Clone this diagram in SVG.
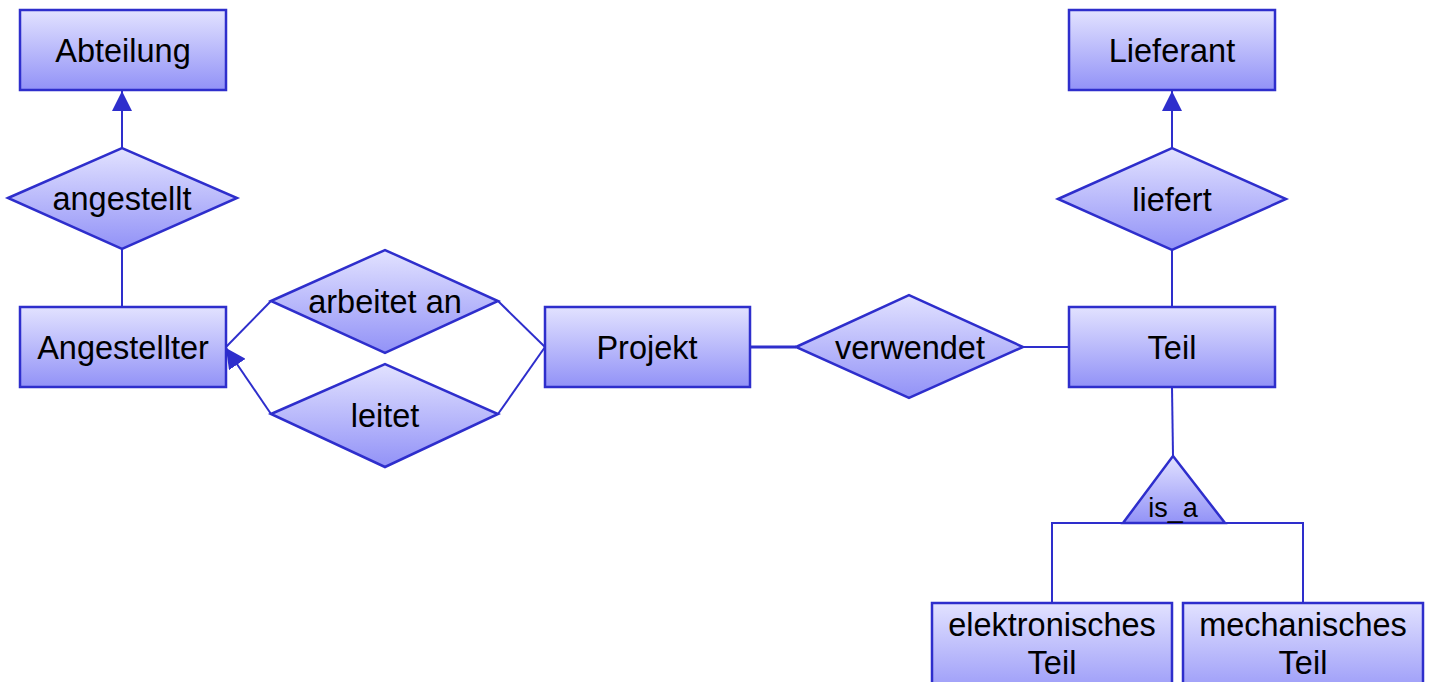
<svg xmlns="http://www.w3.org/2000/svg" width="1429" height="682" viewBox="0 0 1429 682">
<defs>
<linearGradient id="g" x1="0" y1="0" x2="0" y2="1">
<stop offset="0" stop-color="#e2e2ff"/>
<stop offset="1" stop-color="#9292f7"/>
</linearGradient>
<marker id="arr" viewBox="0 0 20 20" refX="20" refY="10" markerWidth="20" markerHeight="20" markerUnits="userSpaceOnUse" orient="auto">
<path d="M0,0 L20,10 L0,20 Z" fill="#2e2ecc"/>
</marker>
<style>
.n{fill:url(#g);stroke:#2e2ecc;stroke-width:2.5}
.t{font-family:"Liberation Sans",Arial,sans-serif;font-size:32.5px;fill:#000;text-anchor:middle}
.s{font-size:27px}
.c{fill:none;stroke:#2e2ecc;stroke-width:2}
</style>
</defs>
<rect width="1429" height="682" fill="#fff"/>
<g id="connectors">
<line class="c" x1="122" y1="148" x2="122" y2="91" marker-end="url(#arr)"/>
<line class="c" x1="122" y1="249" x2="122" y2="307"/>
<line class="c" x1="226" y1="347" x2="271" y2="301"/>
<line class="c" x1="498" y1="301" x2="545" y2="347"/>
<line class="c" x1="271" y1="414" x2="226" y2="348" marker-end="url(#arr)"/>
<line class="c" x1="498" y1="414" x2="545" y2="347"/>
<line class="c" x1="750" y1="347" x2="796" y2="347" style="stroke-width:3"/>
<line class="c" x1="1023" y1="347" x2="1069" y2="347"/>
<line class="c" x1="1172" y1="148" x2="1172" y2="91" marker-end="url(#arr)"/>
<line class="c" x1="1172" y1="250" x2="1172" y2="307"/>
<line class="c" x1="1172" y1="387" x2="1173" y2="456"/>
<polyline class="c" points="1123,523 1052,523 1052,603"/>
<polyline class="c" points="1225,523 1303,523 1303,603"/>
</g>
<g id="abteilung"><rect class="n" x="20" y="10" width="206" height="80"/><text class="t" x="123" y="62">Abteilung</text></g>
<g id="angestellt"><polygon class="n" points="8,198 122,148 237,198 122,249"/><text class="t" x="122" y="210">angestellt</text></g>
<g id="angestellter"><rect class="n" x="20" y="307" width="206" height="80"/><text class="t" x="123" y="359">Angestellter</text></g>
<g id="arbeitet_an"><polygon class="n" points="271,301 385,250 498,301 385,353"/><text class="t" x="385" y="313">arbeitet an</text></g>
<g id="leitet"><polygon class="n" points="271,414 385,364 498,414 385,467"/><text class="t" x="385" y="427">leitet</text></g>
<g id="projekt"><rect class="n" x="545" y="307" width="205" height="80"/><text class="t" x="647" y="359">Projekt</text></g>
<g id="verwendet"><polygon class="n" points="796,347 909,295 1023,347 909,398"/><text class="t" x="910" y="359">verwendet</text></g>
<g id="lieferant"><rect class="n" x="1069" y="10" width="206" height="80"/><text class="t" x="1172" y="62">Lieferant</text></g>
<g id="liefert"><polygon class="n" points="1058,199 1172,148 1286,199 1172,250"/><text class="t" x="1172" y="211">liefert</text></g>
<g id="teil"><rect class="n" x="1069" y="307" width="206" height="80"/><text class="t" x="1172" y="359">Teil</text></g>
<g id="is_a"><polygon class="n" points="1173,456 1225,523 1123,523"/><text class="t s" x="1173" y="517">is_a</text></g>
<g id="elektronisch"><rect class="n" x="932" y="603" width="240" height="100"/><text class="t" x="1052" y="636">elektronisches</text><text class="t" x="1052" y="674">Teil</text></g>
<g id="mechanisch"><rect class="n" x="1183" y="603" width="240" height="100"/><text class="t" x="1303" y="636">mechanisches</text><text class="t" x="1303" y="674">Teil</text></g>
</svg>
